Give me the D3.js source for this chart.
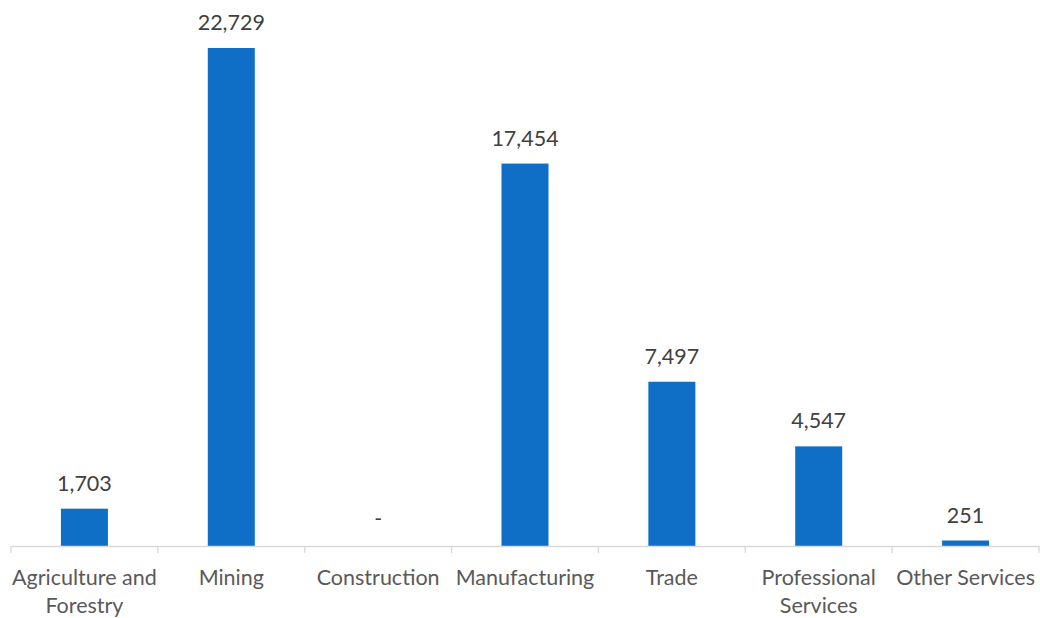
<!DOCTYPE html>
<html><head><meta charset="utf-8">
<script src="https://cdn.jsdelivr.net/npm/d3@7"></script>
<style>body{margin:0;background:#fff;} svg{display:block;}</style>
</head><body>
<svg id="chart" width="1040" height="618"></svg>
<script>
const categories = [["Agriculture and","Forestry"],["Mining"],["Construction"],["Manufacturing"],["Trade"],["Professional","Services"],["Other Services"]];
const values = [1703, 22729, 0, 17454, 7497, 4547, 251];
const valueLabels = ["1,703","22,729","-","17,454","7,497","4,547","251"];

const svg = d3.select("#chart");
const left = 11, right = 1039, base = 546;
const x = d3.scaleBand().domain(d3.range(categories.length)).range([left, right]).paddingInner(0).paddingOuter(0);
const y = d3.scaleLinear().domain([0, 25000]).range([base, base - 25000*498/22729]);
const barW = 47;

svg.selectAll("rect.bar").data(values).join("rect")
  .attr("x", (d,i)=> x(i) + x.bandwidth()/2 - barW/2)
  .attr("y", d=> y(d)).attr("width", barW).attr("height", d=> base - y(d))
  .attr("fill", "#0F6FC6");

const axis = d3.axisBottom(x).tickSize(0).tickFormat("");
const g = svg.append("g").attr("transform", `translate(0,${base})`).call(axis);
g.select(".domain").attr("stroke", "#D9D9D9").attr("stroke-width", 1.3);
const bounds = d3.range(categories.length+1).map(i => i < categories.length ? x(i) : right);
g.selectAll("line.tk").data(bounds).join("line").attr("class","tk")
  .attr("x1", d=>d).attr("x2", d=>d).attr("y1", 0).attr("y2", 7)
  .attr("stroke", "#D9D9D9").attr("stroke-width", 1.3);

const font = "Lato, 'Open Sans', sans-serif";
svg.selectAll("text.val").data(values).join("text")
  .attr("x", (d,i)=> x(i) + x.bandwidth()/2)
  .attr("y", (d,i)=> d === 0 ? base - 20 : y(d) - 18)
  .attr("text-anchor","middle").attr("font-family", font).attr("font-size", 21.5)
  .attr("fill", "#404040").text((d,i)=> valueLabels[i]);

categories.forEach((lines, i) => {
  const t = svg.append("text").attr("text-anchor","middle").attr("font-family", font)
    .attr("font-size", 21.5).attr("fill", "#595959");
  lines.forEach((ln, j) => {
    t.append("tspan").attr("x", x(i) + x.bandwidth()/2).attr("y", 585 + j*28).text(ln);
  });
});
</script>
</body></html>
